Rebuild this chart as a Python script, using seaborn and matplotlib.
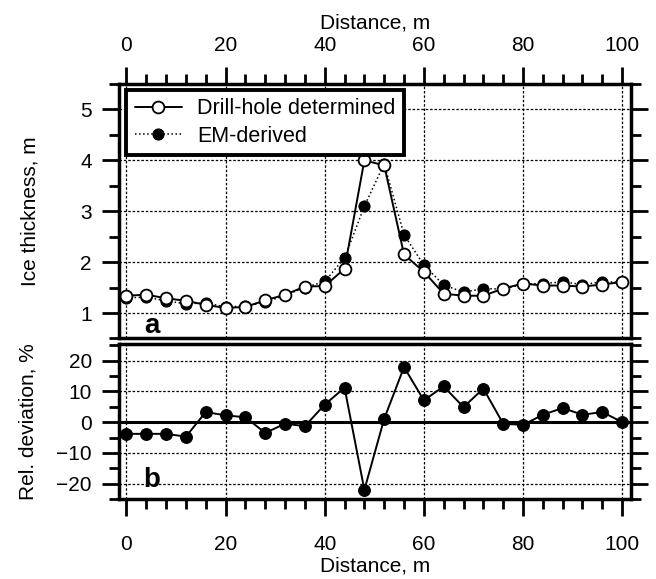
import numpy as np
import pandas as pd
import matplotlib
matplotlib.use("Agg")
import matplotlib.pyplot as plt
import seaborn as sns
from matplotlib.ticker import MultipleLocator

# ---- data ----
distance = [0, 4, 8, 12, 16, 20, 24, 28, 32, 36, 40, 44, 48, 52, 56, 60, 64, 68, 72, 76, 80, 84, 88, 92, 96, 100]
drill_hole = [1.34, 1.36, 1.29, 1.24, 1.16, 1.10, 1.12, 1.25, 1.36, 1.52, 1.53, 1.87, 4.00, 3.90, 2.15, 1.81,
              1.38, 1.34, 1.34, 1.48, 1.58, 1.54, 1.54, 1.52, 1.56, 1.61]
em_derived = [1.30, 1.31, 1.24, 1.18, 1.20, 1.12, 1.14, 1.21, 1.35, 1.50, 1.62, 2.08, 3.10, 3.93, 2.54, 1.94,
              1.55, 1.41, 1.48, 1.47, 1.57, 1.58, 1.61, 1.56, 1.61, 1.61]
rel_dev = [-3.8, -3.8, -3.8, -4.7, 3.3, 2.2, 1.6, -3.5, -0.5, -1.3, 5.7, 11.2, -22.0, 1.1, 17.9, 7.1,
           11.6, 4.9, 10.9, -0.5, -0.9, 2.4, 4.6, 2.4, 3.3, 0.0]
x_ticks = [0, 20, 40, 60, 80, 100]
thick_ticks = [1, 2, 3, 4, 5]
dev_ticks = [-20, -10, 0, 10, 20]
series_labels = ["Drill-hole determined", "EM-derived"]

df = pd.DataFrame({"distance": distance, "drill": drill_hole, "em": em_derived, "dev": rel_dev})

sns.set_style("white")
plt.rcParams["font.family"] = ["Liberation Sans", "DejaVu Sans"]
plt.rcParams["font.size"] = 15
for key in ("text.color", "axes.labelcolor", "xtick.color", "ytick.color"):
    plt.rcParams[key] = "black"

fig = plt.figure(figsize=(6.56, 5.79), dpi=100)
L, R = 0.1814, 0.962
ax1 = fig.add_axes([L, 0.4154, R - L, 0.855 - 0.4154])
ax2 = fig.add_axes([L, 0.138, R - L, 0.4059 - 0.138])

grid_kw = dict(color="black", linewidth=0.9, linestyle=(0, (2.0, 1.5)))

# ---- top panel ----
sns.lineplot(data=df, x="distance", y="em", ax=ax1, color="black", linestyle=":", linewidth=1.1,
             marker="o", markersize=8, markerfacecolor="black", markeredgecolor="black",
             label=series_labels[1], zorder=3)
sns.lineplot(data=df, x="distance", y="drill", ax=ax1, color="black", linestyle="-", linewidth=1.4,
             marker="o", markersize=8.5, markerfacecolor="white", markeredgecolor="black",
             markeredgewidth=1.3, label=series_labels[0], zorder=4)

ax1.set_xlim(-1.5, 101.8)
ax1.set_ylim(0.5, 5.5)
for v in x_ticks:
    ax1.axvline(v, **grid_kw, zorder=1)
for v in thick_ticks:
    ax1.axhline(v, **grid_kw, zorder=1)

ax1.xaxis.set_ticks_position("top")
ax1.xaxis.set_label_position("top")
ax1.set_xticks(x_ticks)
ax1.xaxis.set_minor_locator(MultipleLocator(4))
ax1.set_yticks(thick_ticks)
ax1.yaxis.set_minor_locator(MultipleLocator(0.5))
ax1.tick_params(axis="x", which="both", top=True, bottom=False, labeltop=True, labelbottom=False,
                direction="out", width=2, pad=8, labelsize=15)
ax1.tick_params(axis="y", which="both", left=True, right=True, labelleft=True, labelright=False,
                direction="out", width=2, pad=7, labelsize=15)
ax1.tick_params(which="major", length=12.5)
ax1.tick_params(which="minor", length=7)
ax1.set_xlabel("Distance, m", fontsize=15, labelpad=6)
ax1.set_ylabel("Ice thickness, m", fontsize=15)
ax1.yaxis.set_label_coords(-0.155, 0.5)
ax1.text(5.1, 0.74, "a", fontsize=20, fontweight="bold", ha="center", va="center")

handles, labels = ax1.get_legend_handles_labels()
order = [labels.index(series_labels[0]), labels.index(series_labels[1])]
leg = ax1.legend([handles[i] for i in order], [labels[i] for i in order],
                 loc="upper left", bbox_to_anchor=(0.014, 0.977), fontsize=15.5, frameon=True,
                 fancybox=False, edgecolor="black", framealpha=1, handlelength=2.2,
                 handletextpad=0.7, borderpad=0.4, labelspacing=0.3, borderaxespad=0)
leg.get_frame().set_linewidth(2.8)
leg.set_zorder(10)

# ---- bottom panel ----
ax2.axhline(0, color="black", linewidth=2.2, zorder=2)
sns.lineplot(data=df, x="distance", y="dev", ax=ax2, color="black", linestyle="-", linewidth=1.4,
             marker="o", markersize=8.5, markerfacecolor="black", markeredgecolor="black", zorder=3)
ax2.set_xlim(-1.5, 101.8)
ax2.set_ylim(-25, 25.4)
for v in x_ticks:
    ax2.axvline(v, **grid_kw, zorder=1)
for v in dev_ticks:
    if v != 0:
        ax2.axhline(v, **grid_kw, zorder=1)
ax2.set_xticks(x_ticks)
ax2.xaxis.set_minor_locator(MultipleLocator(4))
ax2.set_yticks(dev_ticks)
ax2.yaxis.set_minor_locator(MultipleLocator(5))
ax2.tick_params(axis="x", which="both", top=False, bottom=True, direction="out", width=2, pad=13,
                labelsize=15)
ax2.tick_params(axis="y", which="both", left=True, right=True, labelleft=True, labelright=False,
                direction="out", width=2, pad=7, labelsize=15)
ax2.tick_params(which="major", length=12.5)
ax2.tick_params(which="minor", length=7)
ax2.set_xlabel("Distance, m", fontsize=15, labelpad=2)
ax2.set_ylabel("Rel. deviation, %", fontsize=15)
ax2.yaxis.set_label_coords(-0.16, 0.5)
ax2.text(5.1, -18.7, "b", fontsize=20, fontweight="bold", ha="center", va="center")

for ax in (ax1, ax2):
    for s in ax.spines.values():
        s.set_visible(True)
        s.set_linewidth(2.5)
        s.set_color("black")

fig.savefig("out.png", dpi=100, facecolor="white")
